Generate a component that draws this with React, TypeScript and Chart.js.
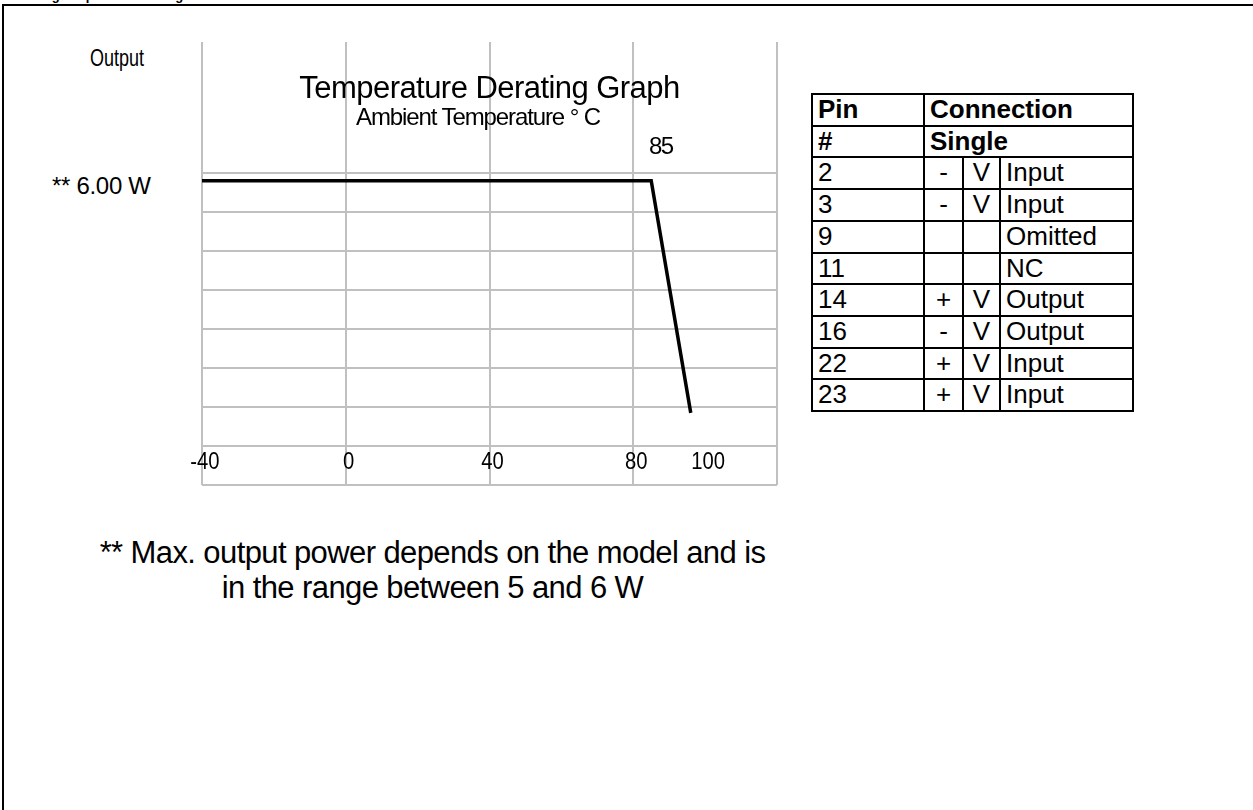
import React, { useEffect, useRef } from "react";
import { Chart, registerables } from "chart.js";

Chart.register(...registerables);

// ---- data ----
const temperatures = [-40, 85, 96];
const outputLevel = [7.8, 7.8, 1.85];
const xGridValues = [-40, 0, 40, 80, 120];
const xTickValues = [-40, 0, 40, 80, 100];
const xTickLabels = ["-40", "0", "40", "80", "100"];
const yGridValues = [0, 1, 2, 3, 4, 5, 6, 7, 8];
const yMax = 11.36;

const pinNumbers = ["2", "3", "9", "11", "14", "16", "22", "23"];
const pinSigns = ["-", "-", "", "", "+", "-", "+", "+"];
const pinUnits = ["V", "V", "", "", "V", "V", "V", "V"];
const pinFunctions = ["Input", "Input", "Omitted", "NC", "Output", "Output", "Input", "Input"];

const FONT = "'Liberation Sans', Arial, sans-serif";

const tickLabelPlugin = {
  id: "insideTickLabels",
  afterDraw(chart: any) {
    const ctx = chart.ctx;
    const xs = chart.scales.x;
    const area = chart.chartArea;
    ctx.save();
    ctx.fillStyle = "#000";
    ctx.font = `23px ${FONT}`;
    ctx.textAlign = "center";
    ctx.textBaseline = "middle";
    xTickValues.forEach((v, i) => {
      ctx.save();
      ctx.translate(xs.getPixelForValue(v) + 3, area.bottom - 22);
      ctx.scale(0.88, 1);
      ctx.fillText(xTickLabels[i], 0, 0);
      ctx.restore();
    });
    ctx.restore();
  },
};

function DeratingChart() {
  const ref = useRef<HTMLCanvasElement | null>(null);
  useEffect(() => {
    if (!ref.current) return;
    const chart = new Chart(ref.current, {
      type: "scatter",
      data: {
        datasets: [
          {
            data: temperatures.map((t, i) => ({ x: t, y: outputLevel[i] })),
            showLine: true,
            borderColor: "#000",
            backgroundColor: "#000",
            borderWidth: 3.5,
            pointRadius: 0,
            tension: 0,
            fill: false,
            borderCapStyle: "butt",
          } as any,
        ],
      },
      options: {
        animation: false,
        responsive: false,
        maintainAspectRatio: false,
        layout: { padding: { left: 12, top: 12, right: 13, bottom: 15 } },
        plugins: {
          legend: { display: false },
          tooltip: { enabled: false },
          title: { display: false },
        },
        scales: {
          x: {
            type: "linear",
            min: -40,
            max: 120,
            afterBuildTicks: (s: any) => {
              s.ticks = xGridValues.map((v) => ({ value: v }));
            },
            ticks: { display: false },
            grid: { color: "#c0c0c0", lineWidth: 2, drawTicks: false },
            border: { display: false },
          },
          y: {
            type: "linear",
            min: 0,
            max: yMax,
            afterBuildTicks: (s: any) => {
              s.ticks = yGridValues.map((v) => ({ value: v }));
            },
            ticks: { display: false },
            grid: { color: "#c0c0c0", lineWidth: 2, drawTicks: false },
            border: { display: false },
          },
        },
      } as any,
      plugins: [tickLabelPlugin],
    });
    return () => chart.destroy();
  }, []);
  return (
    <canvas
      ref={ref}
      width={600}
      height={470}
      style={{ position: "absolute", left: 190, top: 30, width: 600, height: 470 }}
    />
  );
}

const abs = (o: any) => ({ position: "absolute" as const, whiteSpace: "nowrap" as const, ...o });

function PinTable() {
  const rowH = 31.7;
  const cell = (o: any) => ({
    borderRight: "2px solid #000",
    borderBottom: "2px solid #000",
    padding: "0 0 0 5px",
    height: rowH - 2,
    lineHeight: `${rowH - 2}px`,
    ...o,
  });
  return (
    <table
      style={abs({
        left: 811,
        top: 93,
        borderCollapse: "separate",
        borderSpacing: 0,
        borderTop: "2px solid #000",
        borderLeft: "2px solid #000",
        fontFamily: FONT,
        fontSize: 26,
        color: "#000",
      })}
    >
      <colgroup>
        <col style={{ width: 112 }} />
        <col style={{ width: 39 }} />
        <col style={{ width: 37 }} />
        <col style={{ width: 133 }} />
      </colgroup>
      <tbody>
        <tr>
          <td style={cell({ fontWeight: "bold" })}>Pin</td>
          <td colSpan={3} style={cell({ fontWeight: "bold" })}>Connection</td>
        </tr>
        <tr>
          <td style={cell({ fontWeight: "bold" })}>#</td>
          <td colSpan={3} style={cell({ fontWeight: "bold" })}>Single</td>
        </tr>
        {pinNumbers.map((p, i) => (
          <tr key={p}>
            <td style={cell({})}>{p}</td>
            <td style={cell({ textAlign: "center", padding: 0 })}>{pinSigns[i]}</td>
            <td style={cell({ textAlign: "center", padding: 0 })}>{pinUnits[i]}</td>
            <td style={cell({})}>{pinFunctions[i]}</td>
          </tr>
        ))}
      </tbody>
    </table>
  );
}

export default function App() {
  return (
    <div
      style={{
        position: "absolute",
        left: 0,
        top: 0,
        width: 1253,
        height: 810,
        background: "#fff",
        overflow: "hidden",
        fontFamily: FONT,
        color: "#000",
      }}
    >
      {/* cut-off heading */}
      <div style={abs({ left: 0, top: 0, width: 1253, height: 4, overflow: "hidden" })}>
        <div style={abs({ left: 7, top: -11, fontSize: 13, lineHeight: "13px", fontWeight: "bold" })}>
          Derating Graph &amp; Pin Configuration
        </div>
      </div>
      {/* frame */}
      <div
        style={abs({
          left: 2,
          top: 4,
          width: 1300,
          height: 900,
          borderTop: "2px solid #000",
          borderLeft: "2px solid #000",
        })}
      />
      <DeratingChart />
      <div
        style={abs({
          left: 90,
          top: 44,
          fontSize: 24,
          lineHeight: "28px",
          transform: "scaleX(0.75)",
          transformOrigin: "left center",
        })}
      >
        Output
      </div>
      <div style={abs({ left: 202, width: 575, top: 71, textAlign: "center", fontSize: 31, lineHeight: "34px", letterSpacing: -0.55 })}>
        Temperature Derating Graph
      </div>
      <div style={abs({ left: 328, width: 300, top: 103, textAlign: "center", fontSize: 24, lineHeight: "28px", letterSpacing: -1.1 })}>
        Ambient Temperature ° C
      </div>
      <div style={abs({ left: 649, top: 133, fontSize: 24, lineHeight: "26px", letterSpacing: -1.5 })}>85</div>
      <div style={abs({ left: 52, top: 173, fontSize: 24, lineHeight: "26px", letterSpacing: -0.3 })}>** 6.00 W</div>
      <PinTable />
      <div style={abs({ left: 80, width: 705, top: 535, textAlign: "center", fontSize: 31, lineHeight: "35px", letterSpacing: -0.6 })}>
        ** Max. output power depends on the model and is
        <br />
        in the range between 5 and 6 W
      </div>
    </div>
  );
}
